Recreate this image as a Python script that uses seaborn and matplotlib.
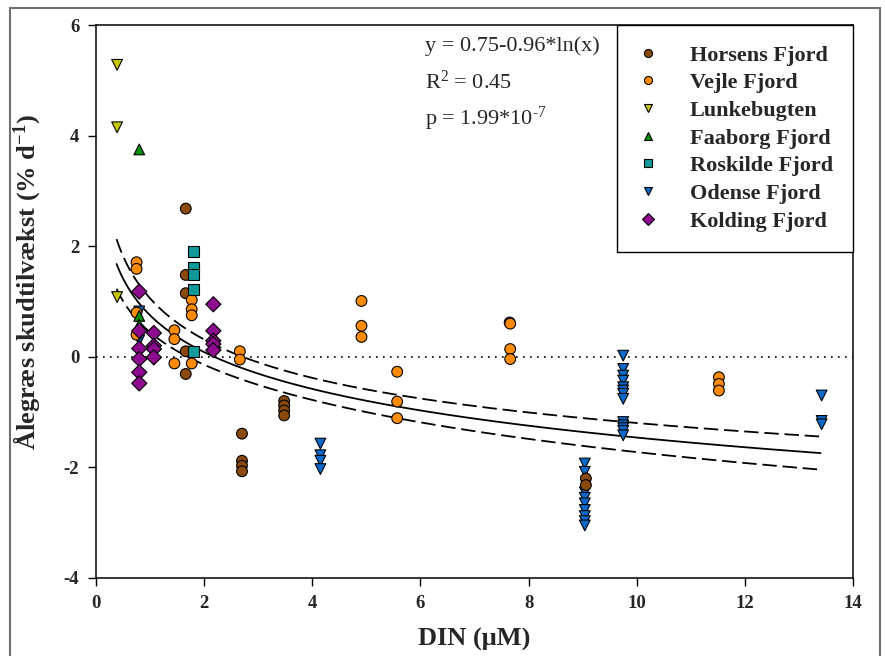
import numpy as np
import pandas as pd
import matplotlib
matplotlib.use("Agg")
import matplotlib.pyplot as plt
import seaborn as sns
from matplotlib.patches import Rectangle

# ---------------- data ----------------
fjords = ["Horsens Fjord", "Vejle Fjord", "Lunkebugten", "Faaborg Fjord",
          "Roskilde Fjord", "Odense Fjord", "Kolding Fjord"]
colors = ["#8B4A0C", "#FF8C00", "#C8C800", "#009000", "#109A9A", "#0A6ACC", "#8E0A8E"]
marker_codes = ["o", "o", "v", "^", "s", "v", "D"]

horsens_x = [1.66]*5 + [2.70]*4 + [3.48]*4 + [7.65] + [9.06]*2
horsens_y = [2.68, 1.48, 1.15, 0.10, -0.31,
             -1.39, -1.88, -1.97, -2.07,
             -0.80, -0.88, -0.97, -1.06,
             0.62,
             -2.20, -2.32]

vejle_x = [0.75]*4 + [1.45]*3 + [1.77]*4 + [2.66]*2 + [4.91]*3 + [5.57]*3 + [7.66]*3 + [11.52]*3
vejle_y = [1.71, 1.59, 0.80, 0.40,
           0.48, 0.32, -0.12,
           1.03, 0.86, 0.75, -0.12,
           0.10, -0.05,
           1.01, 0.56, 0.36,
           -0.27, -0.81, -1.11,
           0.60, 0.14, -0.04,
           -0.37, -0.49, -0.61]

lunke_x = [0.39]*3
lunke_y = [5.28, 4.15, 1.08]

faaborg_x = [0.80]*3
faaborg_y = [3.75, 0.74, 0.58]

roskilde_x = [1.80]*5
roskilde_y = [1.90, 1.61, 1.49, 1.22, 0.10]

odense_x = [0.80]*2 + [4.15]*4 + [9.04]*9 + [9.75]*13 + [13.42]*3
odense_y = [0.82, 0.30,
            -1.57, -1.78, -1.88, -2.03,
            -1.93, -2.08, -2.45, -2.55, -2.65, -2.77, -2.88, -2.97, -3.05,
            0.02, -0.22, -0.34, -0.43, -0.55, -0.61, -0.67, -0.76,
            -1.18, -1.24, -1.29, -1.34, -1.42,
            -0.70, -1.16, -1.22]

kolding_x = [0.80]*6 + [1.07]*4 + [2.17]*5
kolding_y = [1.18, 0.47, 0.15, -0.04, -0.28, -0.48,
             0.43, 0.20, 0.14, -0.01,
             0.95, 0.47, 0.29, 0.23, 0.12]

# regression y = a + b ln(x), with confidence-band half width sqrt(c0 + c1 (ln x - m)^2)
fit_a, fit_b = 0.75, -0.96
band_c0, band_c1, band_m = 0.0397, 0.0309, 1.325
fit_xmin, fit_xmax = 0.38, 13.40

eq_lines = ["y = 0.75-0.96*ln(x)", "R$^2$ = 0.45", "p = 1.99*10$^{\\text{-}7}$"]

x_ticks = [0, 2, 4, 6, 8, 10, 12, 14]
y_ticks = [-4, -2, 0, 2, 4, 6]

# ---------------- build table ----------------
series = {
    "Odense Fjord": (odense_x, odense_y),
    "Horsens Fjord": (horsens_x, horsens_y),
    "Vejle Fjord": (vejle_x, vejle_y),
    "Lunkebugten": (lunke_x, lunke_y),
    "Faaborg Fjord": (faaborg_x, faaborg_y),
    "Roskilde Fjord": (roskilde_x, roskilde_y),
    "Kolding Fjord": (kolding_x, kolding_y),
}
rows = []
for name, (xs, ys) in series.items():
    for xv, yv in zip(xs, ys):
        rows.append({"DIN": xv, "growth": yv, "fjord": name})
df = pd.DataFrame(rows)

xg = np.linspace(fit_xmin, fit_xmax, 300)
yfit = fit_a + fit_b * np.log(xg)
hw = np.sqrt(band_c0 + band_c1 * (np.log(xg) - band_m) ** 2)
fit_df = pd.DataFrame({"x": xg, "fit": yfit, "upper": yfit + hw, "lower": yfit - hw})

# ---------------- style ----------------
sns.set_theme(style="white")
plt.rcParams["font.family"] = ["Liberation Serif", "DejaVu Serif"]
plt.rcParams["mathtext.fontset"] = "custom"
plt.rcParams["mathtext.rm"] = "Liberation Serif"
plt.rcParams["mathtext.bf"] = "Liberation Serif:bold"
plt.rcParams["mathtext.default"] = "rm"

fig = plt.figure(figsize=(8.85, 6.56), dpi=100)
ax = fig.add_axes([96/885, 1-578/656, (853-96)/885, (578-25)/656])

palette = dict(zip(fjords, colors))
markers = dict(zip(fjords, marker_codes))

ax.axhline(0, color="black", lw=1.2, ls=(0, (1, 3.2)), zorder=1)

sns.lineplot(data=fit_df, x="x", y="fit", ax=ax, color="black", lw=1.3, zorder=2)
sns.lineplot(data=fit_df, x="x", y="upper", ax=ax, color="black", lw=1.3, zorder=2)
ax.lines[-1].set_dashes((8, 3.2))
sns.lineplot(data=fit_df, x="x", y="lower", ax=ax, color="black", lw=1.3, zorder=2)
ax.lines[-1].set_dashes((8, 3.2))

sns.scatterplot(data=df, x="DIN", y="growth", hue="fjord", style="fjord",
                hue_order=fjords, style_order=fjords, palette=palette, markers=markers,
                s=60, edgecolor="black", linewidth=0.8, ax=ax, zorder=3)

ax.set_xlim(0, 14)
ax.set_ylim(-4, 6)
ax.set_xticks(x_ticks)
ax.set_yticks(y_ticks)
ax.set_xticklabels([str(t) for t in x_ticks], fontsize=13.5, fontweight="bold")
ax.set_yticklabels([str(t) for t in y_ticks], fontsize=13.5, fontweight="bold")
ax.tick_params(direction="out", length=6, width=1, color="black", left=True, bottom=True, pad=6)
for sp in ax.spines.values():
    sp.set_color("black")
    sp.set_linewidth(1.1)

ax.set_xlabel("DIN (μM)", fontsize=19, fontweight="bold", labelpad=12)
ax.set_ylabel("Ålegræs skudtilvækst (% d$^{\\mathbf{-1}}$)", fontsize=19, fontweight="bold")
ax.yaxis.set_label_coords(-0.0715, 0.535)

# legend
handles, labels = ax.get_legend_handles_labels()
leg = ax.legend(handles, labels, loc="upper right", bbox_to_anchor=(1.0, 1.0),
                borderaxespad=0, frameon=True, fancybox=False, edgecolor="black",
                prop={"family": "Liberation Serif", "weight": "bold", "size": 16},
                markerscale=0.75, handlelength=1.0, handletextpad=1.4,
                borderpad=0.9, labelspacing=0.32)
leg.get_frame().set_linewidth(1.0)
leg.get_frame().set_alpha(1)

# equation text
for i, line in enumerate(eq_lines):
    ax.text(0.4346, 0.962 - i * 0.066, line, transform=ax.transAxes,
            fontsize=16, va="center", ha="left", family="Liberation Serif")

# outer frame
fig.patches.append(Rectangle((10/885, -0.01), (880-10)/885, 1.01 - 8/656,
                             transform=fig.transFigure, fill=False,
                             edgecolor="#707070", lw=1.5))

fig.savefig("out.png", dpi=100)
